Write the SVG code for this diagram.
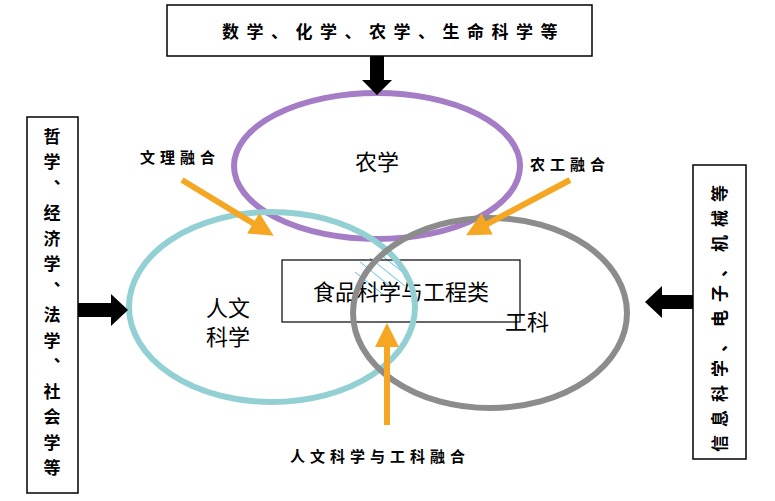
<svg xmlns="http://www.w3.org/2000/svg" width="775" height="501" viewBox="0 0 775 501">
<style>
text{font-family:"Noto Sans CJK SC",sans-serif;fill:#000}
.box{fill:#fff;stroke:#000;stroke-width:1.5}
.b{font-weight:bold;font-size:17px}
.l{font-weight:bold;font-size:15px;letter-spacing:5px}
.big{font-size:22px}
.oa{stroke:#f5a623;stroke-width:6}
</style>
<defs>
<marker id="oh" markerWidth="4" markerHeight="4" refX="2.5" refY="2" orient="auto"><path d="M0,0L4,2L0,4z" fill="#f5a623"/></marker>
<clipPath id="lens"><ellipse cx="272" cy="307" rx="143" ry="95"/></clipPath>
</defs>
<rect width="775" height="501" fill="#fff"/>
<g id="top"><rect class="box" x="167" y="5" width="425" height="51"/><text class="b" x="222" y="38" letter-spacing="7.5">数学、化学、农学、生命科学等</text></g>
<g id="left"><rect class="box" x="27" y="117" width="51" height="376"/><text class="b" x="52" y="128" style="writing-mode:vertical-rl" letter-spacing="8.5">哲学、经济学、法学、社会学等</text></g>
<g id="right"><rect class="box" x="693" y="165" width="53" height="294"/><text class="b" transform="translate(726,452) rotate(-90)" letter-spacing="8">信息科学、电子、机械等</text></g>
<g id="hatch" clip-path="url(#lens)" stroke="#5bc0eb" stroke-width="1">
<line x1="360" y1="262" x2="395" y2="290"/><line x1="370" y1="258" x2="405" y2="286"/><line x1="380" y1="254" x2="415" y2="282"/><line x1="355" y1="272" x2="385" y2="296"/>
</g>
<g id="agri"><ellipse cx="377" cy="166" rx="143" ry="73" fill="none" stroke="#a57cc6" stroke-width="6"/><text class="big" x="377" y="170" text-anchor="middle">农学</text></g>
<g id="food"><rect x="282" y="260" width="238" height="62" fill="none" stroke="#000" stroke-width="1.2"/><text class="big" x="401" y="300" text-anchor="middle">食品科学与工程类</text></g>
<g id="hum"><ellipse cx="272" cy="307" rx="143" ry="95" fill="none" stroke="#93d0d4" stroke-width="6"/><text class="big" x="228" y="316" text-anchor="middle">人文</text><text class="big" x="228" y="345" text-anchor="middle">科学</text></g>
<g id="eng"><ellipse cx="490" cy="313" rx="137" ry="95" fill="none" stroke="#8c8c8c" stroke-width="6"/><text class="big" x="527" y="330" text-anchor="middle">工科</text></g>
<g id="connectors">
<path d="M370 56V80H362L377 95L392 80H384V56z" fill="#000"/>
<path d="M78 303H111V294L128 310L111 326V317H78z" fill="#000"/>
<path d="M693 295H662V286L645 302L662 318V309H693z" fill="#000"/>
<line class="oa" x1="182" y1="180" x2="266" y2="231" marker-end="url(#oh)"/>
<line class="oa" x1="570" y1="180" x2="474" y2="231" marker-end="url(#oh)"/>
<line class="oa" x1="387" y1="425" x2="387" y2="332" marker-end="url(#oh)"/>
</g>
<g id="labels">
<text class="l" x="140" y="163">文理融合</text>
<text class="l" x="530" y="170">农工融合</text>
<text class="l" x="290" y="462">人文科学与工科融合</text>
</g>
</svg>
